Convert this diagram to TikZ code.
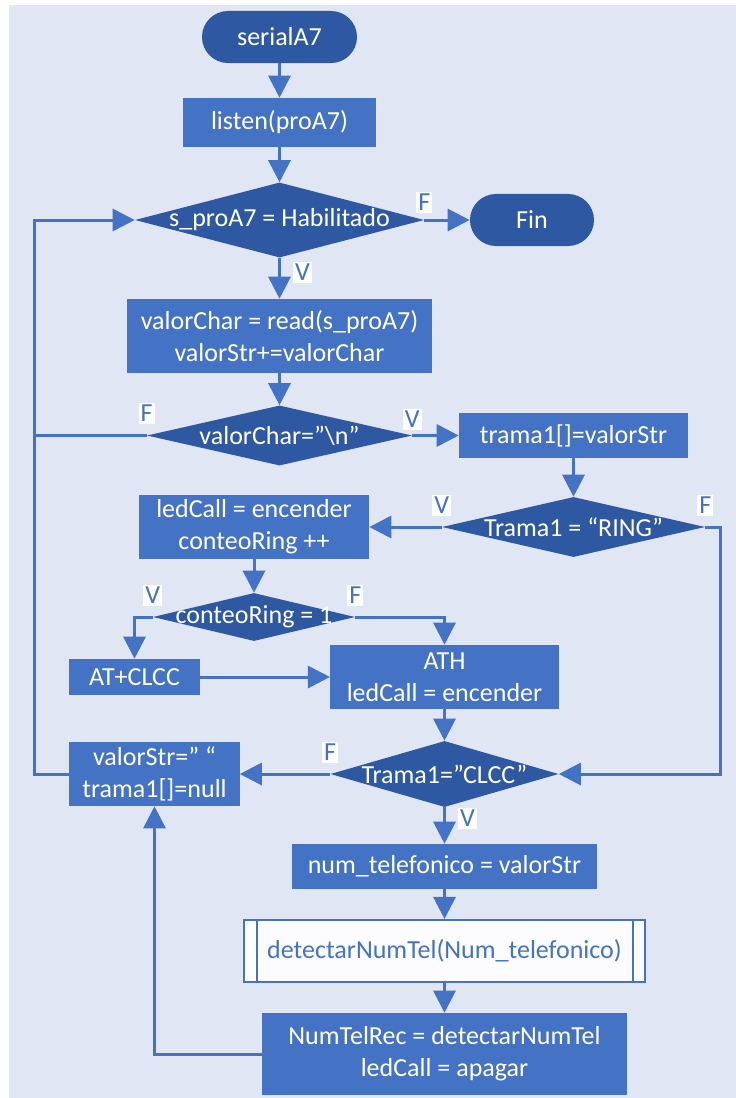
\documentclass[tikz,border=0pt]{standalone}
\usepackage{fontspec}
\setmainfont{Carlito}
\usetikzlibrary{arrows.meta,shapes.geometric}

\definecolor{panel}{RGB}{224,230,243}
\definecolor{boxblue}{RGB}{68,114,196}
\definecolor{darkblue}{RGB}{47,88,162}

\begin{document}
\begin{tikzpicture}[x=0.025cm, y=-0.025cm, >={Triangle[length=0.55cm, width=0.55cm]},
    font={\fontsize{18.5}{22.7}\selectfont},
    flow/.style={draw=boxblue, line width=0.075cm},
    proc/.style={rectangle, fill=boxblue, text=white, align=center, inner sep=0pt},
    term/.style={rectangle, rounded corners=0.65cm, fill=darkblue, text=white, minimum width=3.1cm, minimum height=1.3cm},
    decision/.style={diamond, fill=darkblue, text=white, inner sep=0pt},
    subr/.style={rectangle, draw=boxblue, line width=0.05cm, fill=white!90!panel, text=boxblue},
    lbl/.style={fill=white, text=boxblue, inner sep=1.5pt}]
    \useasboundingbox (0,0) rectangle (736,1098);
    \fill[panel] (9,5) rectangle (736,1098);
    % main column
    \node[term, minimum width=3.875cm] (start) at (279.5,37) {serialA7};
    \node[proc, minimum width=4.8cm, minimum height=1.225cm] (listen) at (279.5,122.5) {listen(proA7)};
    \node[decision, minimum width=7.225cm, minimum height=1.875cm] (habil) at (279.5,220) {\makebox[0pt]{s\_proA7 = Habilitado}};
    \node[term] (fin) at (532,220) {Fin};
    \node[proc, minimum width=7.6cm, minimum height=1.85cm] (leer) at (279.5,336) {valorChar = read(s\_proA7)\\valorStr+=valorChar};
    \node[decision, minimum width=6.625cm, minimum height=1.5cm] (finlinea) at (279.5,435.5) {\makebox[0pt]{valorChar=”\textbackslash n”}};
    \node[proc, minimum width=5.725cm, minimum height=1.125cm] (trama) at (573.5,435.5) {trama1[]=valorStr};
    \node[decision, minimum width=6.575cm, minimum height=1.5cm] (ring) at (573.5,527) {\makebox[0pt]{Trama1 = “RING”}};
    % RING branch
    \node[proc, minimum width=5.75cm, minimum height=1.6cm] (encender) at (254,527) {ledCall = encender\\conteoRing ++};
    \node[decision, minimum width=5.05cm, minimum height=1.2cm] (conteo) at (254,617) {\makebox[0pt]{conteoRing = 1}};
    \node[proc, minimum width=3.25cm, minimum height=0.9cm] (clcc) at (134.5,677) {AT+CLCC};
    \node[proc, minimum width=5.7125cm, minimum height=1.6cm] (ath) at (444.5,677) {ATH\\ledCall = encender};
    \node[decision, minimum width=5.7cm, minimum height=1.65cm] (esclcc) at (444.5,774) {\makebox[0pt]{Trama1=”CLCC”}};
    \node[proc, minimum width=4.25cm, minimum height=1.6cm] (reset) at (154.5,774) {valorStr=” “\\trama1[]=null};
    % CLCC branch
    \node[proc, minimum width=7.625cm, minimum height=1.125cm] (numtel) at (444.5,866.5) {num\_telefonico = valorStr};
    \node[subr, minimum width=10.025cm, minimum height=1.55cm] (detectar) at (444.5,951) {detectarNumTel(Num\_telefonico)};
    \node[proc, minimum width=9.125cm, minimum height=2.05cm] (apagar) at (444.5,1054) {NumTelRec = detectarNumTel\\ledCall = apagar};
    \draw[boxblue, line width=0.05cm] ([xshift=0.36cm]detectar.north west) -- ([xshift=0.36cm]detectar.south west);
    \draw[boxblue, line width=0.05cm] ([xshift=-0.32cm]detectar.north east) -- ([xshift=-0.32cm]detectar.south east);
    \coordinate (loopL) at (34,774);
    \coordinate (ringR) at (720,527);
    % connectors
    \draw[flow, ->] (start.south) -- (listen.north);
    \draw[flow, ->] (listen.south) -- (habil.north);
    \draw[flow, ->] (habil.east) -- node[lbl, pos=0, above=0.15cm] {F} (fin.west);
    \draw[flow, ->] (habil.south) -- node[lbl, pos=0.35, right=0.3cm] {V} (leer.north);
    \draw[flow, ->] (leer.south) -- (finlinea.north);
    \draw[flow] (finlinea.west) -- node[lbl, pos=0, above=0.25cm] {F} (finlinea.west -| loopL);
    \draw[flow, ->] (finlinea.east) -- node[lbl, pos=0, above=0.1cm] {V} (trama.west);
    \draw[flow, ->] (trama.south) -- (ring.north);
    \draw[flow, ->] (ring.west) -- node[lbl, pos=0, above=0.25cm] {V} (encender.east);
    \draw[flow, ->] (ring.east) -- node[lbl, pos=0, above=0.25cm] {F} (ringR) |- (esclcc.east);
    \draw[flow, ->] (encender.south) -- (conteo.north);
    \draw[flow, ->] (conteo.west) -| node[lbl, pos=0, above=0.25cm] {V} (clcc.north);
    \draw[flow, ->] (conteo.east) -| node[lbl, pos=0, above=0.25cm] {F} (ath.north);
    \draw[flow, ->] (clcc.east) -- (ath.west);
    \draw[flow, ->] (ath.south) -- (esclcc.north);
    \draw[flow, ->] (esclcc.west) -- node[lbl, pos=0, above=0.25cm] {F} (reset.east);
    \draw[flow, ->] (esclcc.south) -- node[lbl, pos=0.3, right=0.3cm] {V} (numtel.north);
    \draw[flow, ->] (numtel.south) -- (detectar.north);
    \draw[flow, ->] (detectar.south) -- (apagar.north);
    \draw[flow, ->] (apagar.west) -| (reset.south);
    \draw[flow, ->] (reset.west) -- (loopL) |- (habil.west);
\end{tikzpicture}
\end{document}
